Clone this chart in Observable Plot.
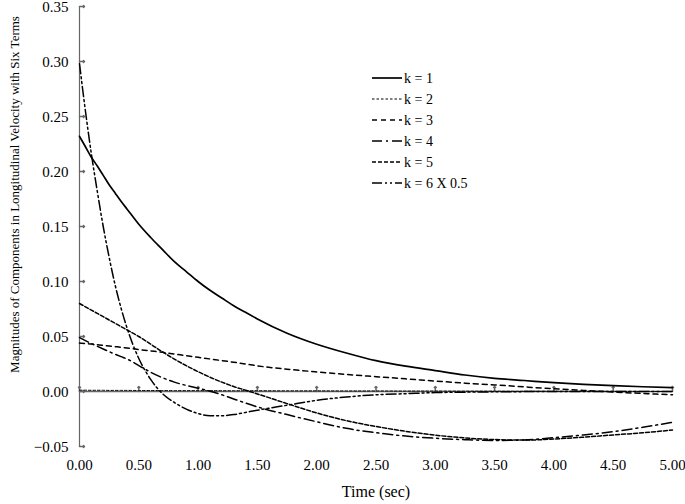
<!DOCTYPE html>
<html><head><meta charset="utf-8">
<script src="https://cdn.jsdelivr.net/npm/d3@7"></script>
<script src="https://cdn.jsdelivr.net/npm/@observablehq/plot@0.6"></script>
<style>body{margin:0;background:#fff} #chart{width:685px;height:504px}</style>
</head><body><div id="chart"></div>
<script>
const time = [0,0.05,0.1,0.15,0.2,0.25,0.3,0.35,0.4,0.5,0.6,0.7,0.8,0.9,1.0,1.1,1.2,1.3,1.4,1.5,1.75,2,2.25,2.5,2.75,3,3.25,3.5,3.75,4,4.25,4.5,4.75,5];
const k1 = [0.232,0.2225,0.213,0.205,0.1965,0.188,0.1805,0.173,0.166,0.152,0.140,0.129,0.118,0.109,0.100,0.092,0.085,0.078,0.072,0.066,0.053,0.043,0.035,0.028,0.023,0.019,0.015,0.012,0.010,0.008,0.0065,0.0053,0.0043,0.0035];
const k2 = [0.0012,0.0012,0.0011,0.0011,0.0011,0.0010,0.0010,0.0010,0.0010,0.0009,0.0009,0.0009,0.0008,0.0008,0.0008,0.0008,0.0007,0.0007,0.0007,0.0007,0.0006,0.0006,0.0005,0.0005,0.0004,0.0004,0.0003,0.0003,0.0002,0.0002,0.0001,0.0001,0.0000,0.0000];
const k3 = [0.0440,0.0436,0.0431,0.0426,0.0420,0.0414,0.0408,0.0402,0.0395,0.0382,0.0369,0.0356,0.0341,0.0326,0.0311,0.0296,0.0281,0.0266,0.0250,0.0233,0.0203,0.0178,0.0155,0.0135,0.0115,0.0095,0.0076,0.0060,0.0042,0.0025,0.0010,-0.0005,-0.0018,-0.0030];
const k4 = [0.0490,0.0462,0.0436,0.0411,0.0386,0.0362,0.0339,0.0317,0.0296,0.0236,0.0175,0.0125,0.0085,0.0055,0.0030,0.0003,-0.0030,-0.0068,-0.0105,-0.0140,-0.0210,-0.0275,-0.0335,-0.0375,-0.0405,-0.0425,-0.0438,-0.0445,-0.0440,-0.0420,-0.0395,-0.0365,-0.0325,-0.0280];
const k5 = [0.0800,0.0770,0.0740,0.0710,0.0680,0.0650,0.0620,0.0590,0.0560,0.0500,0.0430,0.0360,0.0295,0.0235,0.0180,0.0130,0.0085,0.0045,0.0012,-0.0022,-0.0110,-0.0195,-0.0265,-0.0318,-0.0362,-0.0397,-0.0422,-0.0437,-0.0442,-0.0432,-0.0415,-0.0395,-0.0375,-0.0350];
const k6 = [0.298,0.255,0.216,0.182,0.150,0.122,0.097,0.076,0.058,0.030,0.011,-0.002,-0.010,-0.016,-0.020,-0.022,-0.022,-0.021,-0.019,-0.017,-0.0125,-0.008,-0.005,-0.003,-0.002,-0.001,-0.0006,-0.0003,-0.0001,0,0,0,0,0];

const seriesNames = ["k = 1","k = 2","k = 3","k = 4","k = 5","k = 6 X 0.5"];
const seriesValues = [k1,k2,k3,k4,k5,k6];
const seriesDash = ["none","2.5,2","5,4","10,4,2,4","4,2","10,3,2,3,2,3"];
const seriesWidth = [1.7,1,1.5,1.5,1.5,1.5];
const xTicks = [0,0.5,1,1.5,2,2.5,3,3.5,4,4.5,5];
const yTicks = [-0.05,0,0.05,0.1,0.15,0.2,0.25,0.3,0.35];
const xTitle = "Time (sec)";
const yTitle = "Magnitudes of Components in Longitudinal Velocity with Six Terms";

const rows = seriesNames.flatMap((name,i) => time.map((t,j) => ({series:name, t, v: seriesValues[i][j]})));
const fmt = d3.format(".2f");
const axisColor = "#666";
const serif = "'Liberation Serif', 'Times New Roman', serif";

const chart = Plot.plot({
  width: 685, height: 504,
  marginLeft: 79, marginRight: 13, marginTop: 6, marginBottom: 58,
  style: {fontFamily: serif, fontSize: "15px", background: "#fff", color: "#000"},
  x: {domain: [0,5]},
  y: {domain: [-0.05,0.35]},
  marks: [
    Plot.ruleX([0], {stroke: axisColor, strokeWidth: 1.2}),
    Plot.ruleY([0], {stroke: axisColor, strokeWidth: 1.5}),
    Plot.vector(yTicks, {x: 0, y: d => d, length: 5, rotate: 90, anchor: "start", stroke: axisColor}),
    Plot.vector(xTicks, {x: d => d, y: 0, length: 5, rotate: 0, anchor: "start", stroke: axisColor}),
    ...seriesNames.map((name,i) => Plot.line(rows.filter(r => r.series === name), {
      x: "t", y: "v", stroke: "#000", strokeWidth: seriesWidth[i],
      strokeDasharray: seriesDash[i], curve: "monotone-x"
    })),
    Plot.axisX({ticks: xTicks, tickFormat: fmt, tickSize: 0, tickPadding: 13, label: null, fontSize: 15}),
    Plot.axisY({ticks: yTicks, tickFormat: fmt, tickSize: 0, tickPadding: 11, label: null, fontSize: 15, dy: 1}),
    Plot.text([xTitle], {frameAnchor: "bottom", dy: 50, fontSize: 16, text: d => d}),
    Plot.text([yTitle], {frameAnchor: "left", textAnchor: "middle", dx: -65, dy: -32, rotate: -90, fontSize: 13, text: d => d})
  ]
});

// legend inside the plot area
const svg = d3.select(chart);
const lg = svg.append("g").attr("font-family", serif).attr("font-size", 14).attr("text-anchor", "start");
seriesNames.forEach((name, i) => {
  const y = 78 + i * 21;
  lg.append("line").attr("x1", 372).attr("x2", 402).attr("y1", y).attr("y2", y)
    .attr("stroke", "#000").attr("stroke-width", seriesWidth[i])
    .attr("stroke-dasharray", seriesDash[i]);
  lg.append("text").attr("x", 404).attr("y", y).attr("dy", "0.35em").text(name);
});
document.getElementById("chart").append(chart);
</script>
</body></html>
